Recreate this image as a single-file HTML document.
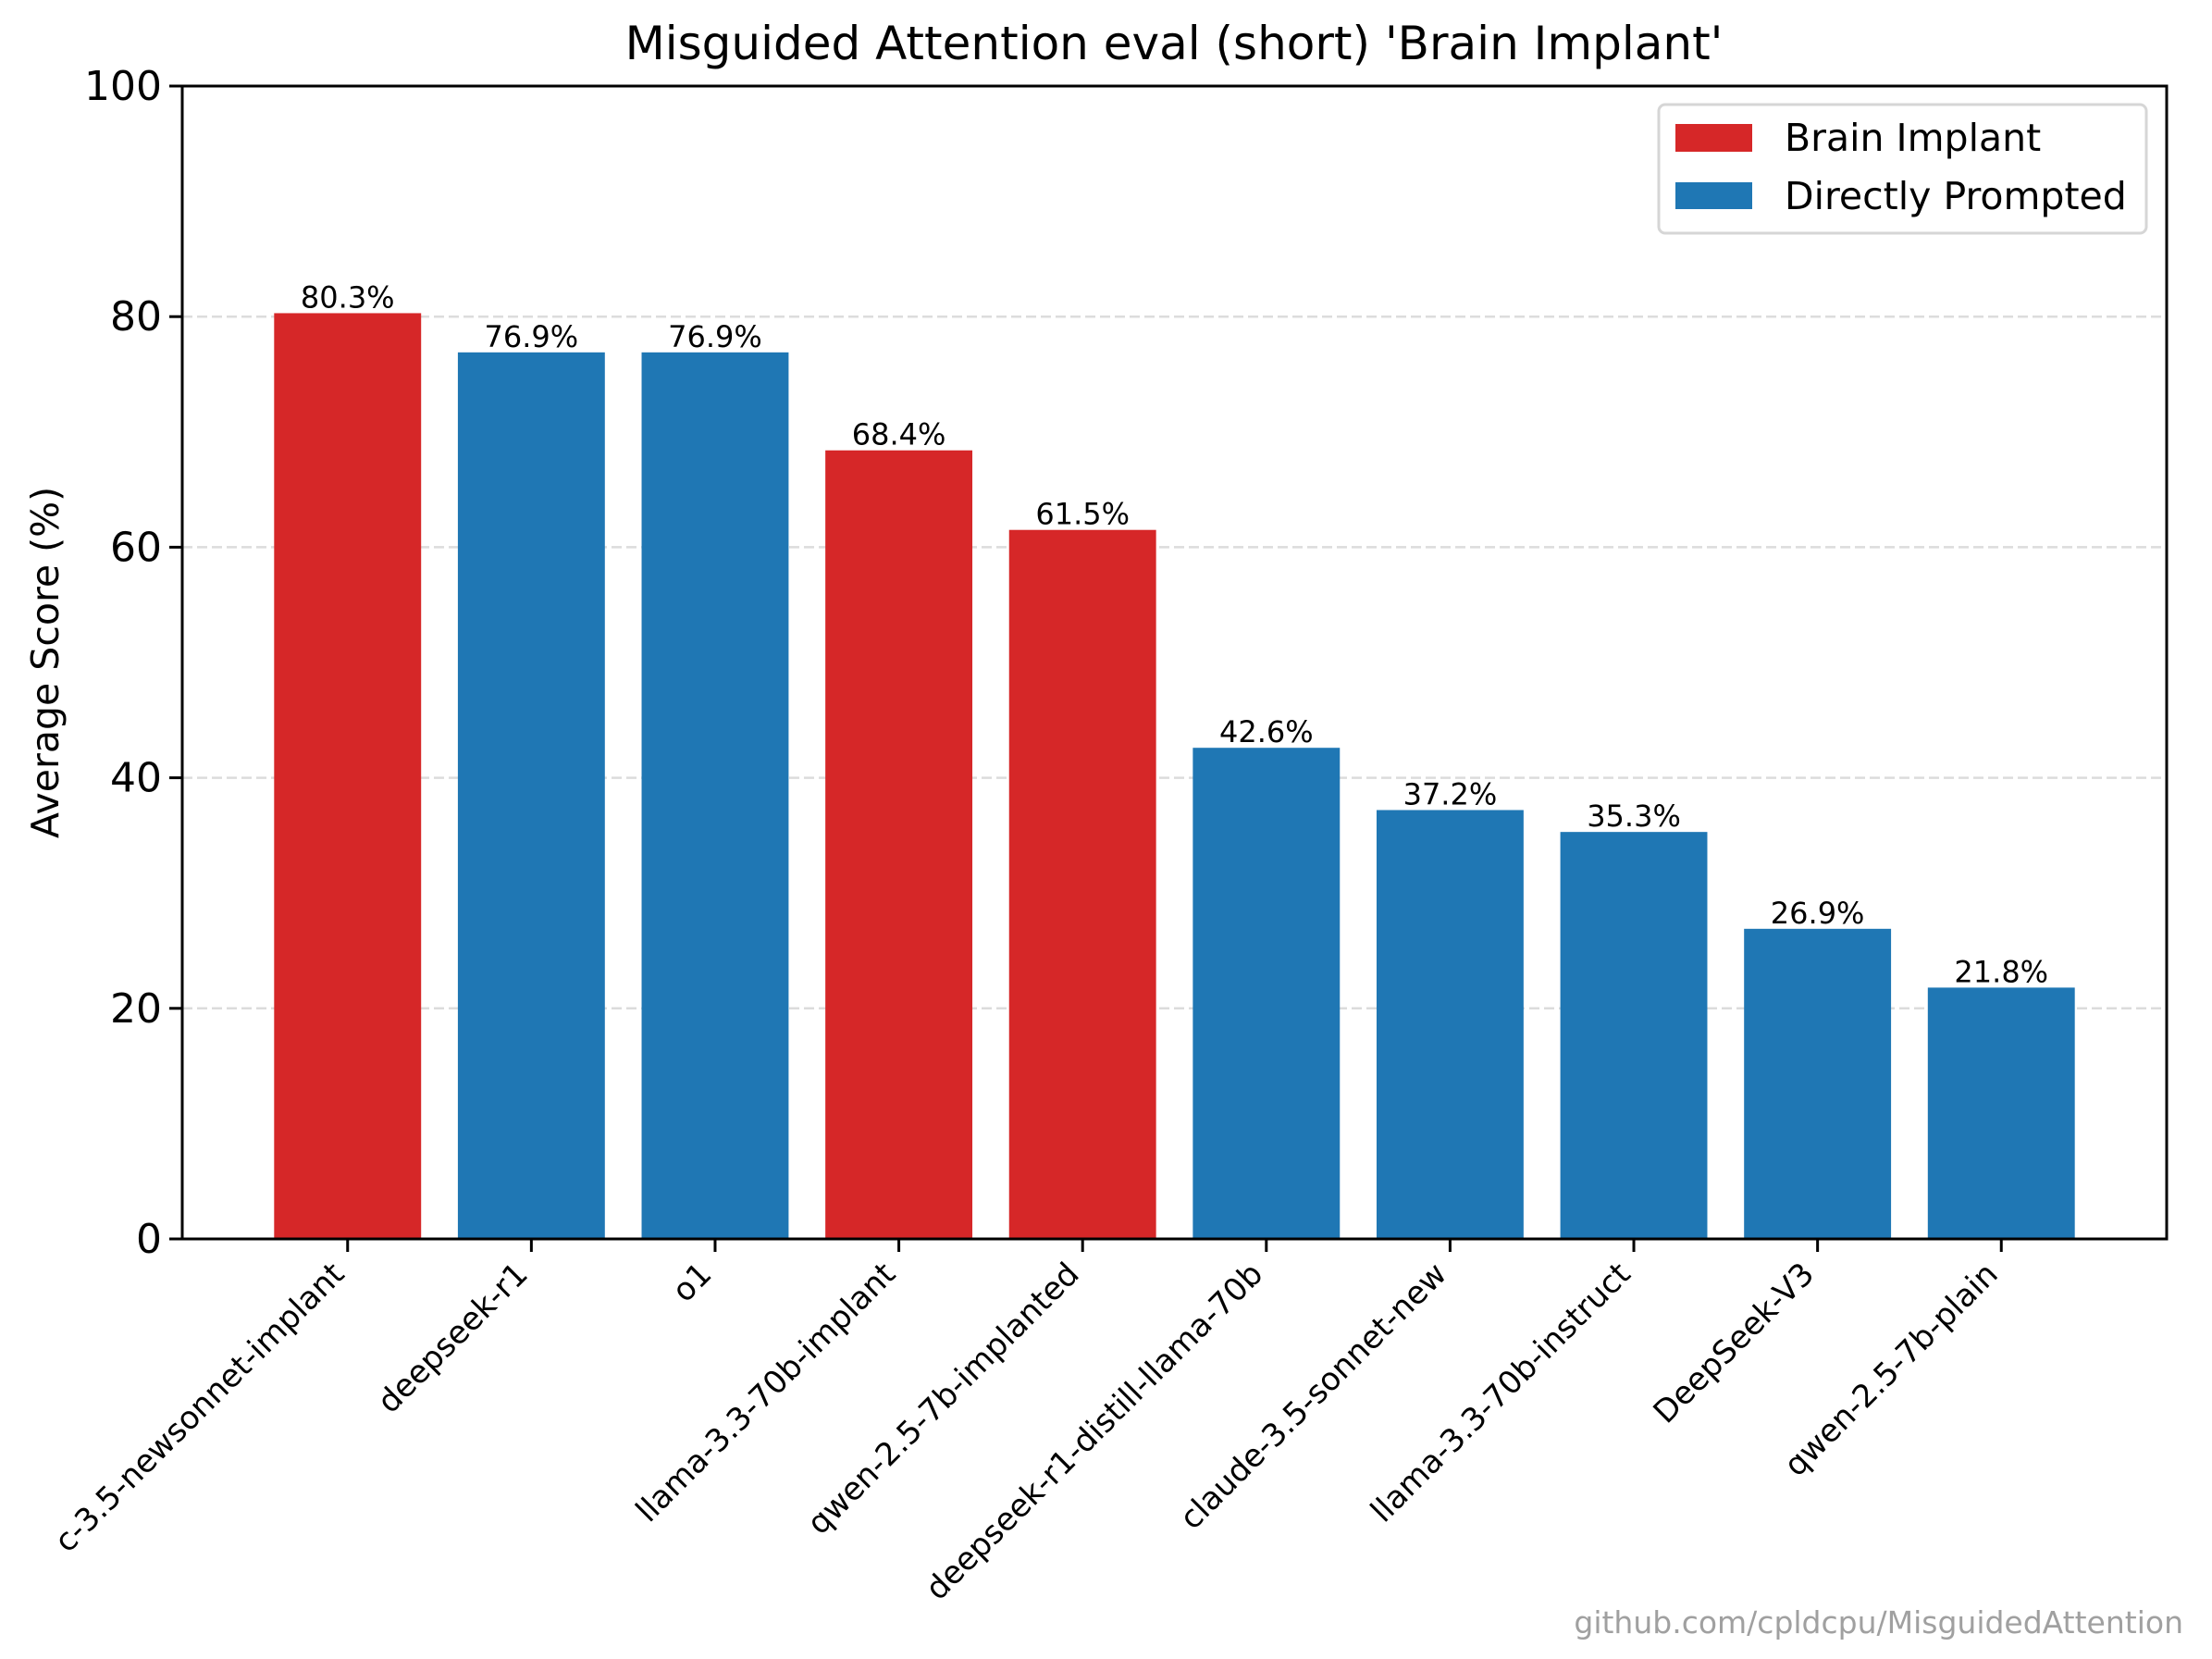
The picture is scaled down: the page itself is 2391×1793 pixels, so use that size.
<!DOCTYPE html>
<html><head><meta charset="utf-8"><style>
html,body{margin:0;padding:0;background:#fff}
svg{display:block;font-family:"DejaVu Sans","Liberation Sans",sans-serif}
</style></head><body>
<svg id="chart" width="2391" height="1793" viewBox="0 0 2391 1793" xmlns="http://www.w3.org/2000/svg">
<rect x="0" y="0" width="2391" height="1793" fill="#fff"/>
<text x="1269" y="64" font-size="50" text-anchor="middle">Misguided Attention eval (short) 'Brain Implant'</text>
<g id="grid"></g>
<g id="bars"></g>
<g id="yticks"></g>
<g id="xticks"></g>
<rect x="197" y="93" width="2145" height="1246" fill="none" stroke="#000" stroke-width="3"/>
<text x="0" y="0" font-size="41" text-anchor="middle" transform="translate(63,716) rotate(-90)">Average Score (%)</text>
<g>
<rect x="1793" y="113" width="527" height="139" rx="7" fill="#fff" stroke="#d6d6d6" stroke-width="3"/>
<rect x="1811" y="134" width="83" height="30" fill="#d62728"/>
<text x="1929" y="163" font-size="41">Brain Implant</text>
<rect x="1811" y="197" width="83" height="29" fill="#1f77b4"/>
<text x="1929" y="226" font-size="41">Directly Prompted</text>
</g>
<text x="2360" y="1765" font-size="33" fill="#a0a0a0" text-anchor="end">github.com/cpldcpu/MisguidedAttention</text>
</svg>
<script>
const categories = ["c-3.5-newsonnet-implant","deepseek-r1","o1","llama-3.3-70b-implant","qwen-2.5-7b-implanted","deepseek-r1-distill-llama-70b","claude-3.5-sonnet-new","llama-3.3-70b-instruct","DeepSeek-V3","qwen-2.5-7b-plain"];
const scores = [80.3,76.9,76.9,68.4,61.5,42.6,37.2,35.3,26.9,21.8];
const groups = ["implant","direct","direct","implant","implant","direct","direct","direct","direct","direct"];
const yTicks = [0,20,40,60,80,100];

const NS = "http://www.w3.org/2000/svg";
const L=197, R=2342, T=93, B=1339;
const xMin=-0.9, xMax=categories.length-1+0.9;
function xs(i){return L+(i-xMin)/(xMax-xMin)*(R-L);}
function ys(v){return B-(v/100)*(B-T);}
const band=(R-L)/(xMax-xMin);
const colors={implant:"#d62728",direct:"#1f77b4"};
function mk(tag,attrs,parent){const e=document.createElementNS(NS,tag);for(const k in attrs)e.setAttribute(k,attrs[k]);parent.appendChild(e);return e;}
const gGrid=document.getElementById("grid"),gBars=document.getElementById("bars"),gY=document.getElementById("yticks"),gX=document.getElementById("xticks");
yTicks.forEach(t=>{
  const y=ys(t);
  if(t>0&&t<100){
    const g=mk("line",{x1:L,x2:R,y1:y,y2:y,stroke:"#dcdcdc","stroke-width":2.5,"stroke-dasharray":"11,5"},gGrid);
    
    
  }
  const tk=mk("line",{x1:L-14,x2:L,y1:y,y2:y,stroke:"#000","stroke-width":3},gY);
  
  
  const tx=mk("text",{x:L-22,y:y+15,"font-size":44,"text-anchor":"end"},gY);
  
  
  tx.textContent=t;
});
categories.forEach((c,i)=>{
  const cx=xs(i),w=band*0.8,y=ys(scores[i]);
  const r=mk("rect",{x:cx-w/2,y:y,width:w,height:B-y,fill:colors[groups[i]]},gBars);
  
  
  const v=mk("text",{x:cx,y:y-6,"font-size":32,"text-anchor":"middle"},gBars);
  
  
  v.textContent=scores[i].toFixed(1)+"%";
  const tk=mk("line",{x1:cx,x2:cx,y1:B,y2:B+14,stroke:"#000","stroke-width":3},gX);
  
  
  const lb=mk("text",{x:0,y:0,"font-size":34,"text-anchor":"end",transform:"translate("+(cx-2)+","+(B+40)+") rotate(-45)"},gX);
  
  
  lb.textContent=c;
});
</script>
</body></html>
